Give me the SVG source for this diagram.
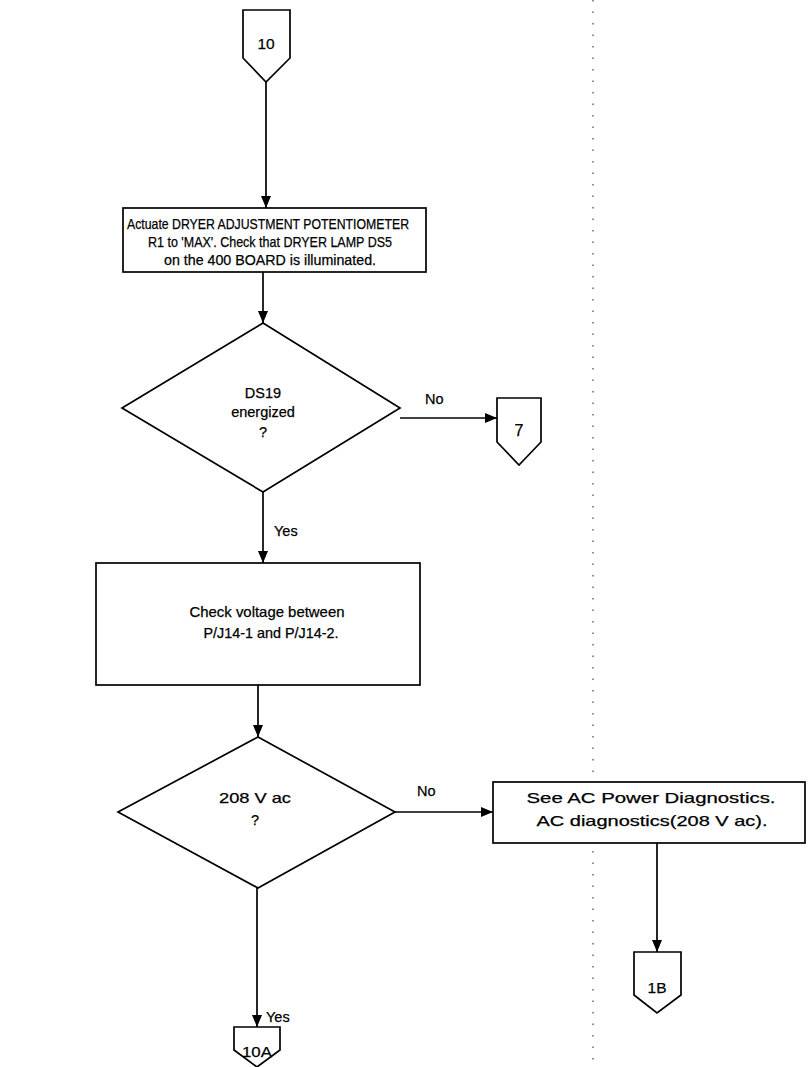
<svg xmlns="http://www.w3.org/2000/svg" width="809" height="1067" viewBox="0 0 809 1067">
<defs>
<style>
.shape{fill:#fff;stroke:#000;stroke-width:1.7}
.line{fill:none;stroke:#000;stroke-width:1.7}
.t{font-family:"Liberation Sans",Arial,sans-serif;font-size:14.5px;fill:#000;stroke:#000;stroke-width:0.25;text-anchor:middle}
.lbl{font-family:"Liberation Sans",Arial,sans-serif;font-size:14.5px;fill:#000;stroke:#000;stroke-width:0.25}
.fold{fill:none;stroke:#444;stroke-width:1.2;stroke-dasharray:1.5 10}
</style>
<marker id="ah" viewBox="0 0 12 10" refX="12" refY="5" markerWidth="12" markerHeight="10" markerUnits="userSpaceOnUse" orient="auto"><path d="M0,0 L12,5 L0,10 z" fill="#000"/></marker>
</defs>
<rect width="809" height="1067" fill="#fff"/>
<line class="fold" x1="593" y1="0" x2="593" y2="1067"/>
<g id="connectors">
<line class="line" x1="266" y1="82" x2="266" y2="208" marker-end="url(#ah)"/>
<line class="line" x1="263" y1="272" x2="263" y2="323" marker-end="url(#ah)"/>
<line class="line" x1="400" y1="418" x2="497" y2="418" marker-end="url(#ah)"/>
<line class="line" x1="263" y1="492" x2="263" y2="563" marker-end="url(#ah)"/>
<line class="line" x1="258" y1="685" x2="258" y2="737" marker-end="url(#ah)"/>
<line class="line" x1="395" y1="812" x2="493" y2="812" marker-end="url(#ah)"/>
<line class="line" x1="657" y1="843" x2="657" y2="952" marker-end="url(#ah)"/>
<line class="line" x1="257" y1="888" x2="257" y2="1027" marker-end="url(#ah)"/>
<text class="lbl" x="425" y="404">No</text>
<text class="lbl" x="274" y="536">Yes</text>
<text class="lbl" x="417" y="796">No</text>
<text class="lbl" x="266" y="1022">Yes</text>
</g>
<g id="c10">
<polygon class="shape" points="243,10 290,10 290,58 266,82 243,58"/>
<text class="t" x="266" y="49" style="font-size:15.5px">10</text>
</g>
<g id="box1">
<rect class="shape" x="123" y="208" width="303" height="64"/>
<text class="t" x="268" y="229" textLength="282" lengthAdjust="spacingAndGlyphs">Actuate DRYER ADJUSTMENT POTENTIOMETER</text>
<text class="t" x="270" y="247" textLength="244" lengthAdjust="spacingAndGlyphs">R1 to 'MAX'. Check that DRYER LAMP DS5</text>
<text class="t" x="270" y="265" textLength="212" lengthAdjust="spacingAndGlyphs">on the 400 BOARD is illuminated.</text>
</g>
<g id="d1">
<polygon class="shape" points="263,323 400,408 263,492 122,408"/>
<text class="t" x="263" y="398">DS19</text>
<text class="t" x="263" y="417">energized</text>
<text class="t" x="263" y="437">?</text>
</g>
<g id="c7">
<polygon class="shape" points="497,398 541,398 541,442 519,465 497,442"/>
<text class="t" x="519" y="436" style="font-size:16px">7</text>
</g>
<g id="box2">
<rect class="shape" x="96" y="563" width="324" height="122"/>
<text class="t" x="267" y="617" textLength="155" lengthAdjust="spacingAndGlyphs">Check voltage between</text>
<text class="t" x="271" y="638" textLength="135" lengthAdjust="spacingAndGlyphs">P/J14-1 and P/J14-2.</text>
</g>
<g id="d2">
<polygon class="shape" points="258,737 395,812 258,888 118,812"/>
<text class="t" x="255" y="803" textLength="72" lengthAdjust="spacingAndGlyphs">208 V ac</text>
<text class="t" x="255" y="825">?</text>
</g>
<g id="box3">
<rect class="shape" x="493" y="782" width="312" height="61"/>
<text class="t" x="651" y="803" textLength="249" lengthAdjust="spacingAndGlyphs">See AC Power Diagnostics.</text>
<text class="t" x="652" y="826" textLength="231" lengthAdjust="spacingAndGlyphs">AC diagnostics(208 V ac).</text>
</g>
<g id="c1b">
<polygon class="shape" points="634,952 681,952 681,995 657,1013 634,995"/>
<text class="t" x="657" y="993" style="font-size:15.5px">1B</text>
</g>
<g id="c10a">
<polygon class="shape" points="234,1027 280,1027 280,1050 257,1067 234,1050"/>
<text class="t" x="257" y="1057" style="font-size:15px" textLength="30" lengthAdjust="spacingAndGlyphs">10A</text>
</g>
</svg>
